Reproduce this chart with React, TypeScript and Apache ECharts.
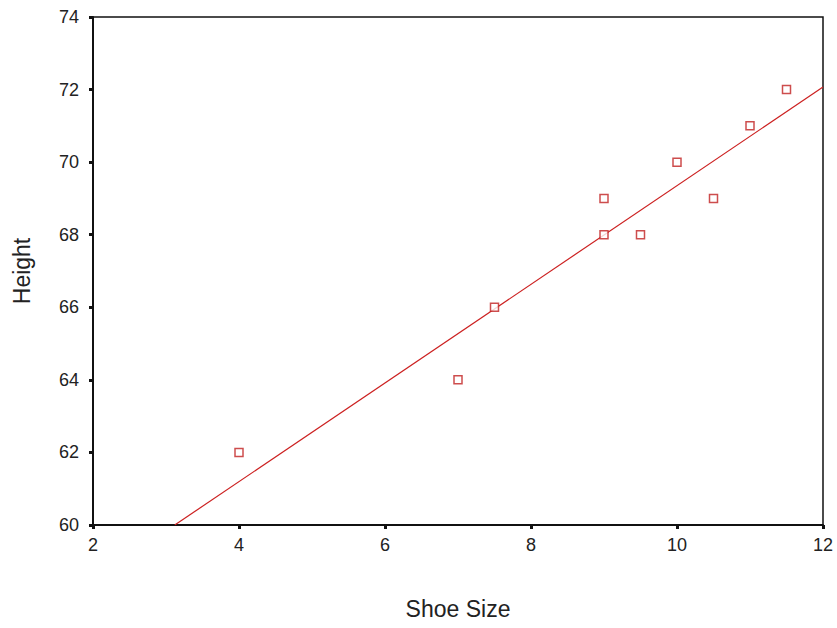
import React, { useEffect, useRef } from "react";
import * as echarts from "echarts";

const shoeSize = [4, 7, 7.5, 9, 9, 9.5, 10, 10.5, 11, 11.5];
const height = [62, 64, 66, 68, 69, 68, 70, 69, 71, 72];
const fitX = [3.12, 12];
const fitY = [60, 72.07];

export default function App() {
  const ref = useRef<HTMLDivElement>(null);
  useEffect(() => {
    const chart = echarts.init(ref.current!, null, { renderer: "svg" });
    const font = "'Liberation Sans', Arial, sans-serif";
    chart.setOption({
      animation: false,
      backgroundColor: "#fff",
      grid: {
        left: 93,
        right: 14,
        top: 17,
        bottom: 103,
        outerBoundsMode: "none",
        containLabel: false,
        show: true,
        borderColor: "#111",
        borderWidth: 1.5,
      },
      xAxis: {
        type: "value",
        min: 2,
        max: 12,
        interval: 2,
        name: "Shoe Size",
        nameLocation: "middle",
        nameGap: 72,
        nameTextStyle: { fontSize: 23, color: "#222", fontFamily: font },
        axisLine: { show: true, lineStyle: { color: "#111", width: 2 } },
        axisTick: { show: true, length: 4, lineStyle: { color: "#111", width: 3 } },
        axisLabel: { fontSize: 18, color: "#222", margin: 11, fontFamily: font },
        splitLine: { show: false },
      },
      yAxis: {
        type: "value",
        min: 60,
        max: 74,
        interval: 2,
        name: "Height",
        nameLocation: "middle",
        nameGap: 60,
        nameTextStyle: { fontSize: 23, color: "#222", fontFamily: font },
        axisLine: { show: true, lineStyle: { color: "#111", width: 2 } },
        axisTick: { show: true, length: 4, lineStyle: { color: "#111", width: 3 } },
        axisLabel: { fontSize: 18, color: "#222", margin: 14, fontFamily: font },
        splitLine: { show: false },
      },
      series: [
        {
          type: "line",
          data: fitX.map((x, i) => [x, fitY[i]]),
          showSymbol: false,
          symbol: "none",
          lineStyle: { color: "#cc2020", width: 1.2 },
          z: 2,
        },
        {
          type: "scatter",
          data: shoeSize.map((x, i) => [x, height[i]]),
          symbol: "rect",
          symbolSize: 8,
          itemStyle: { color: "#fff", borderColor: "#c02020", borderWidth: 1.5 },
          z: 3,
        },
      ],
    });
    return () => chart.dispose();
  }, []);
  return (
    <div
      ref={ref}
      style={{ position: "absolute", left: 0, top: 0, width: 837, height: 628 }}
    />
  );
}
